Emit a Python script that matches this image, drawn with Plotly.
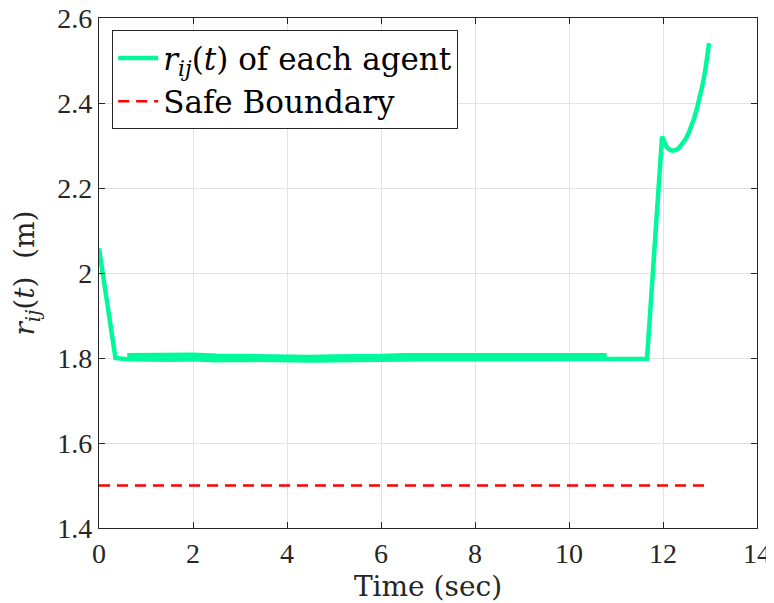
import plotly.graph_objects as go

# Time samples (sec)
t_agent = [0.0, 0.35, 0.6, 1.0, 1.5, 2.0, 2.5, 3.0, 3.5, 4.0, 4.5, 5.0, 5.5, 6.0,
           6.5, 7.0, 7.5, 8.0, 8.5, 9.0, 9.5, 10.0, 10.5, 10.8, 11.2, 11.66,
           11.98, 12.03, 12.08, 12.13, 12.18, 12.24, 12.30, 12.36, 12.42, 12.48, 12.54, 12.60,
           12.66, 12.72, 12.78, 12.84, 12.90, 12.95, 12.98]
# r_ij(t) for the lower-edge agent
r_agent_a = [2.058, 1.800, 1.797, 1.796, 1.796, 1.797, 1.795, 1.796, 1.795, 1.793, 1.794, 1.795, 1.796, 1.796,
             1.796, 1.797, 1.797, 1.797, 1.797, 1.798, 1.798, 1.798, 1.797, 1.797, 1.797, 1.798,
             2.321, 2.306, 2.296, 2.291, 2.288, 2.288, 2.291, 2.297, 2.305, 2.315, 2.328, 2.344,
             2.363, 2.386, 2.412, 2.442, 2.477, 2.512, 2.541]
# r_ij(t) for the upper-edge agent (band segment only)
t_agent_b = [0.6, 1.0, 1.5, 2.0, 2.5, 3.0, 3.5, 4.0, 4.5, 5.0, 5.5, 6.0, 6.5, 7.0,
             7.5, 8.0, 8.5, 9.0, 9.5, 10.0, 10.5, 10.8]
r_agent_b = [1.806, 1.807, 1.806, 1.807, 1.805, 1.804, 1.803, 1.801, 1.802, 1.803, 1.803, 1.804, 1.806, 1.806,
             1.806, 1.806, 1.807, 1.807, 1.807, 1.807, 1.807, 1.806]

t_safe = [0.0, 13.0]
r_safe = [1.5, 1.5]

x_ticks = [0, 2, 4, 6, 8, 10, 12, 14]
y_ticks = [1.4, 1.6, 1.8, 2.0, 2.2, 2.4, 2.6]
y_tick_labels = ["1.4", "1.6", "1.8", "2", "2.2", "2.4", "2.6"]

green = "#00F99A"
serif = '"Liberation Serif", "Times New Roman", serif'
wide_serif = '"DejaVu Serif", "Liberation Serif", serif'

fig = go.Figure()
fig.add_trace(go.Scatter(x=t_agent_b, y=r_agent_b, mode="lines",
                         line=dict(color=green, width=5), showlegend=False))
fig.add_trace(go.Scatter(x=t_agent, y=r_agent_a, mode="lines",
                         line=dict(color=green, width=4.5),
                         name="<i>r</i><sub><i>ij</i></sub>(<i>t</i>) of each agent"))
fig.add_trace(go.Scatter(x=t_safe, y=r_safe, mode="lines",
                         line=dict(color="#FF0000", width=2.5, dash="11px,7px"),
                         name="Safe Boundary"))

axis_common = dict(showline=True, linecolor="#262626", linewidth=1.2, mirror="ticks",
                   ticks="inside", ticklen=6, tickcolor="#262626",
                   showgrid=True, gridcolor="#E3E3E3", gridwidth=1, zeroline=False,
                   automargin=False, ticklabeloverflow="allow",
                   tickfont=dict(family=serif, size=28, color="#262626"))

fig.update_xaxes(range=[0, 14], tickvals=x_ticks,
                 title=dict(text="Time (sec)", font=dict(family=wide_serif, size=28, color="#262626"),
                            standoff=10),
                 **axis_common)
fig.update_yaxes(range=[1.4, 2.6], tickvals=y_ticks, ticktext=y_tick_labels,
                 title=dict(text="<i>r</i><sub><i>ij</i></sub>(<i>t</i>)  (m)",
                            font=dict(family=wide_serif, size=28, color="#262626"),
                            standoff=14),
                 **axis_common)

# page body has an 8px margin, so the figure is offset by 8px
fig.update_layout(
    width=766, height=595,
    margin=dict(l=91, r=17, t=10, b=75),
    paper_bgcolor="white", plot_bgcolor="white",
    legend=dict(x=0.02, y=0.976, xanchor="left", yanchor="top",
                bgcolor="white", bordercolor="#262626", borderwidth=1,
                font=dict(family=wide_serif, size=31, color="#000000"),
                tracegroupgap=0, itemwidth=40),
)

fig.write_html("out.html")
